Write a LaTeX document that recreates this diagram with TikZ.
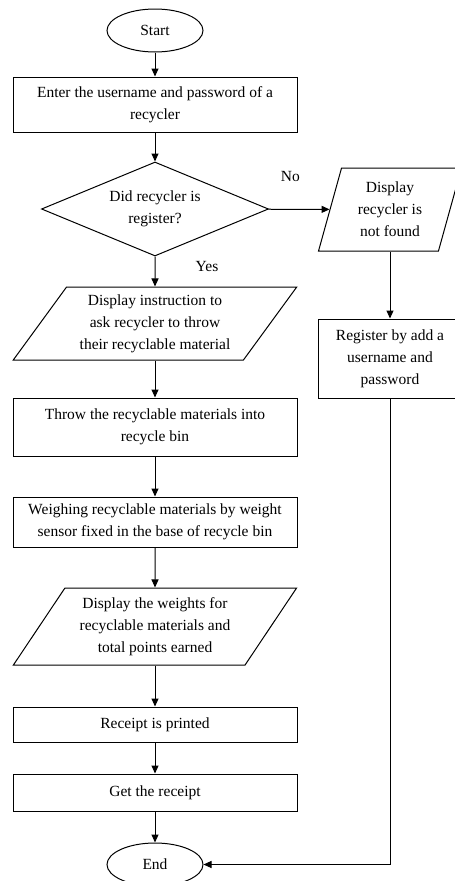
\documentclass[tikz,border=0pt]{standalone}
\usepackage{fontspec}
\setmainfont{Liberation Serif}
\usetikzlibrary{arrows.meta}
\usetikzlibrary{shapes.geometric}

\begin{document}
\begin{tikzpicture}[x=1pt, y=-1pt, line width=1pt,
		font=\fontsize{15.5}{22}\selectfont,
		>={Triangle[length=8pt,width=7pt]},
		terminal/.style={draw, ellipse, minimum width=96pt, minimum height=43pt, inner sep=0pt},
		process/.style={draw, rectangle, minimum width=284pt, inner sep=0pt, align=center},
		decision/.style={draw, diamond, aspect=2.4, minimum width=227pt, minimum height=94pt, inner sep=0pt, align=center},
		io/.style={draw, trapezium, trapezium stretches=true, inner sep=0pt, align=center}]
		\useasboundingbox (0,0) rectangle (455,881);
		
		\node [terminal] (start) at (155,30.5) {Start};
		\node [process, minimum height=55pt] (enter) at (155,104.5) {Enter the username and password of a\\recycler};
		\node [decision] (check) at (155,209) {Did recycler is\\register?};
		\node [io, trapezium left angle=52, trapezium right angle=128, minimum width=284pt, minimum height=73pt] (instruct) at (155,323.5) {Display instruction to\\ask recycler to throw\\their recyclable material};
		\node [process, minimum height=58pt] (throw) at (155,427) {Throw the recyclable materials into\\recycle bin};
		\node [process, minimum height=50pt] (weigh) at (155,522) {Weighing recyclable materials by weight\\sensor fixed in the base of recycle bin};
		\node [io, trapezium left angle=53.5, trapezium right angle=126.5, minimum width=284pt, minimum height=77pt] (show) at (155,626.5) {Display the weights for\\recyclable materials and\\total points earned};
		\node [process, minimum height=35pt] (print) at (155,724.5) {Receipt is printed};
		\node [process, minimum height=37pt] (get) at (155,792.5) {Get the receipt};
		\node [terminal] (end) at (155,864.5) {End};
		
		\node [io, trapezium left angle=74.5, trapezium right angle=105.5, minimum width=144pt, minimum height=83pt] (notfound) at (390,209.5) {Display\\recycler is\\not found};
		\node [process, minimum width=144pt, minimum height=79pt] (register) at (390,358.5) {Register by add a\\username and\\password};
		
		\draw [->] (start) -- (enter);
		\draw [->] (enter) -- (check);
		\draw [->] (check) -- node [pos=0.36, yshift=33pt] {No} (notfound);
		\draw [->] (check) -- node [pos=0.32, xshift=52pt] {Yes} (instruct);
		\draw [->] (instruct) -- (throw);
		\draw [->] (throw) -- (weigh);
		\draw [->] (weigh) -- (show);
		\draw [->] (show) -- (print);
		\draw [->] (print) -- (get);
		\draw [->] (get) -- (end);
		\draw [->] (notfound) -- (register);
		\draw [->] (register) |- (end);
	\end{tikzpicture}
\end{document}
